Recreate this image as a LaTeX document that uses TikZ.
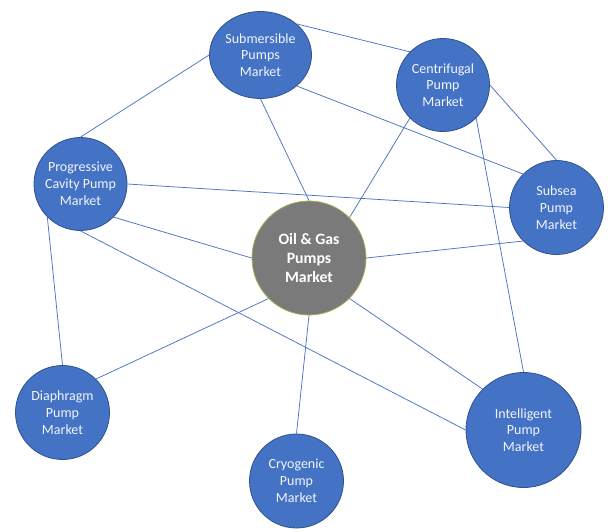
\documentclass[tikz,border=0pt]{standalone}
\usepackage{fontspec}
\setmainfont{Carlito}
\usetikzlibrary{shapes.geometric}
\definecolor{nodeblue}{HTML}{4472C4}
\definecolor{nodeedge}{HTML}{2F528F}
\definecolor{linkblue}{HTML}{4A75C0}
\definecolor{coregray}{HTML}{7A7A7A}
\definecolor{coreedge}{RGB}{165,175,80}
\definecolor{textlight}{HTML}{F2F5FB}
\tikzset{
  market/.style={circle, fill=nodeblue, draw=nodeedge, line width=0.8pt,
    inner sep=0pt, align=center, text=textlight,
    font=\fontsize{14}{16.8}\selectfont},
  core/.style={circle, fill=coregray, draw=coreedge, line width=0.8pt,
    inner sep=0pt, align=center, text=white,
    font=\fontsize{15.8}{19}\selectfont\bfseries, minimum size=114pt},
  link/.style={draw=linkblue, line width=0.75pt}
}
\begin{document}
\begin{tikzpicture}[x=1pt,y=-1pt]
\useasboundingbox (0,0) rectangle (608,531);
\fill[white] (0,0) rectangle (608,531);

\node[core] (core) at (309,258) {Oil \& Gas\\Pumps\\Market};
\node[market, ellipse, minimum width=102pt, minimum height=87pt] (sub) at (260.5,55) {Submersible\\Pumps\\Market};
\node[market, minimum size=93pt] (cen) at (443,85) {Centrifugal\\Pump\\Market};
\node[market, minimum size=93pt] (prog) at (80.5,184) {Progressive\\Cavity Pump\\Market};
\node[market, minimum size=94pt] (subsea) at (556.5,207.5) {Subsea\\Pump\\Market};
\node[market, minimum size=94pt] (dia) at (62.5,412.5) {Diaphragm\\Pump\\Market};
\node[market, minimum size=94pt] (cryo) at (296.5,481) {Cryogenic\\Pump\\Market};
\node[market, minimum size=115pt] (intel) at (523.5,430) {Intelligent\\Pump\\Market};

\draw[link] (sub.north east) -- (cen.north west);
\draw[link] (sub.west) -- (prog.north);
\draw[link] (sub.south) -- (core.north);
\draw[link] (sub.south east) -- (subsea.north west);
\draw[link] (cen.east) -- (subsea.north);
\draw[link] (cen.south west) -- (core.north east);
\draw[link] (cen.south east) -- (intel.north);
\draw[link] (prog.east) -- (subsea.west);
\draw[link] (prog.south east) -- (core.west);
\draw[link] (prog.south) -- (intel.west);
\draw[link] (prog.south west) -- (dia.north);
\draw[link] (core.east) -- (subsea.south west);
\draw[link] (core.south west) -- (dia.north east);
\draw[link] (core.south) -- (cryo.north);
\draw[link] (core.south east) -- (intel.north west);
\end{tikzpicture}
\end{document}
